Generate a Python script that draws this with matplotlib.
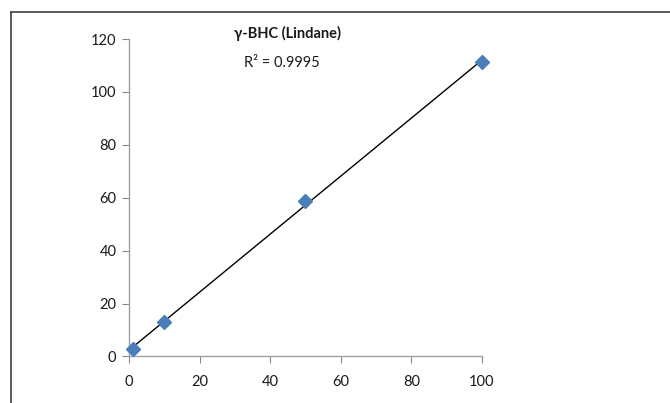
import numpy as np
import matplotlib.pyplot as plt
from matplotlib.lines import Line2D

# calibration points
conc = [1, 10, 50, 100]
response = [3.0, 13.0, 58.8, 111.3]
x_ticks = [0, 20, 40, 60, 80, 100]
y_ticks = [0, 20, 40, 60, 80, 100, 120]
title = "γ-BHC (Lindane)"
r2_text = "R² = 0.9995"

plt.rcParams["font.family"] = ["Lato", "DejaVu Sans"]

fig = plt.figure(figsize=(6.7, 4.03), dpi=100)
ax = fig.add_axes([0.1925, 0.1154, 0.5269, 0.7878])

# linear trendline from the data
slope, intercept = np.polyfit(conc, response, 1)
xs = np.array([min(conc), max(conc)])
ax.plot(xs, slope * xs + intercept, color="black", linewidth=1.0, zorder=2)
ax.plot(conc, response, linestyle="none", marker="D", markersize=7,
        color="#4A7EBB", markeredgecolor="#4A7EBB", zorder=3, clip_on=False)

ax.set_xlim(0, 100)
ax.set_ylim(0, 120)
ax.set_xticks(x_ticks)
ax.set_yticks(y_ticks)
ax.tick_params(axis="both", direction="out", length=5, width=0.8, color="#868686",
               labelsize=10.5, labelcolor="#1a1a1a", pad=4)
ax.tick_params(axis="x", pad=8)

for side in ["top", "right"]:
    ax.spines[side].set_visible(False)
for side in ["left", "bottom"]:
    ax.spines[side].set_color("#A0A0A0")
    ax.spines[side].set_linewidth(1.0)

fig.text(288 / 670, 1 - 33 / 403, title, ha="center", va="center",
         fontsize=10.5, fontweight="bold", color="#1a1a1a")
fig.text(282 / 670, 1 - 63 / 403, r2_text, ha="center", va="center",
         fontsize=10.5, color="#1a1a1a")

# outer chart frame (cut off at right and bottom in the reference)
fig.add_artist(Line2D([11 / 670, 1.0], [1 - 12 / 403, 1 - 12 / 403],
                      transform=fig.transFigure, color="#404040", linewidth=1.2))
fig.add_artist(Line2D([11 / 670, 11 / 670], [0.0, 1 - 12 / 403],
                      transform=fig.transFigure, color="#404040", linewidth=1.2))

fig.savefig("out.png", dpi=100)
